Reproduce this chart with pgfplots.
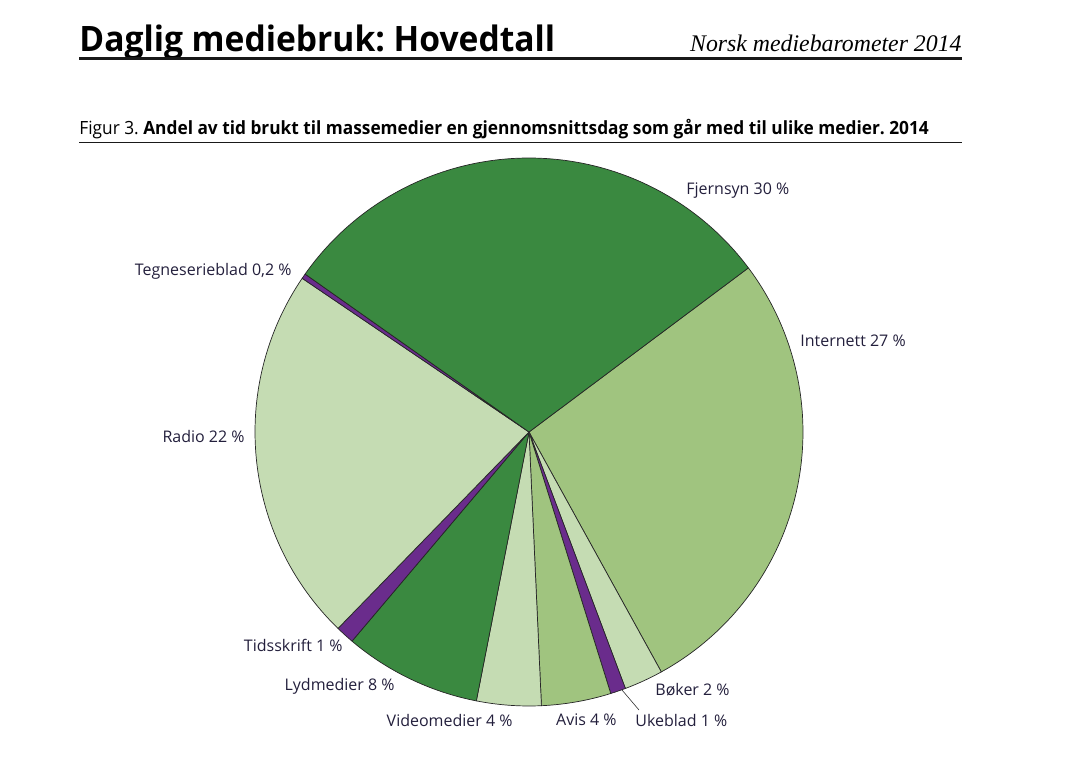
\documentclass[border=0pt]{standalone}
\usepackage{pgfplots}
\pgfplotsset{compat=1.18}
\usepackage{fontspec}
\setmainfont{Open Sans}
\newfontfamily\serifit{Liberation Serif}
\definecolor{cDark}{HTML}{3A8940}
\definecolor{cMed}{HTML}{A0C47F}
\definecolor{cLight}{HTML}{C5DCB3}
\definecolor{cPurp}{HTML}{6A2C8C}
\definecolor{cText}{RGB}{35,31,60}
\frenchspacing
\begin{document}
\begin{tikzpicture}
\begin{axis}[
  x=0.5pt, y=0.5pt,
  xmin=0, xmax=1068, ymin=0, ymax=768,
  hide axis, clip=false,
  scale only axis,
]
% page frame (sets the picture size)
\path (axis cs:0,0) rectangle (axis cs:1068,768);
% header
\node[anchor=base west, inner sep=0pt] at (axis cs:79,716) {\scalebox{0.96}[1]{\fontsize{17.5}{20}\selectfont\bfseries Daglig mediebruk: Hovedtall}};
\node[anchor=base east, inner sep=0pt] at (axis cs:962,716) {\fontsize{11.9}{14}\selectfont\serifit\itshape Norsk mediebarometer 2014};
\draw[line width=1.5pt, black!90] (axis cs:79,709) -- (axis cs:962,709);
\node[anchor=base west, inner sep=0pt] at (axis cs:79,633) {\scalebox{0.95}[1]{\fontsize{9.1}{11}\selectfont Figur 3. \textbf{Andel av tid brukt til massemedier en gjennomsnittsdag som går med til ulike medier. 2014}}};
\draw[line width=0.5pt, black!90] (axis cs:79,625) -- (axis cs:962,625);
% pie slices, clockwise from 36.8 deg, shares in percent
\def\pieangle{36.8}
\foreach \v/\c in {27.2/cMed,2.3/cLight,0.9/cPurp,4.1/cMed,3.8/cLight,8.1/cDark,1.1/cPurp,22.2/cLight,0.3/cPurp,30.0/cDark}{
  \pgfmathsetmacro\endangle{\pieangle-3.6*\v}
  \edef\doslice{\noexpand\filldraw[fill=\c, draw=black!85, line width=0.35pt, line join=round]
    (axis cs:529,336) -- ++(\pieangle:137pt) arc[start angle=\pieangle, end angle=\endangle, radius=137pt] -- cycle;}
  \doslice
  \global\let\pieangle\endangle
}
% labels
\begin{scope}[every node/.style={inner sep=0pt, text=cText, font=\fontsize{8}{9.6}\selectfont}]
\node[anchor=west] at (axis cs:686,577) {Fjernsyn 30 \%};
\node[anchor=west] at (axis cs:800,427) {Internett 27 \%};
\node[anchor=east] at (axis cs:292,497) {Tegneserieblad 0,2 \%};
\node[anchor=east] at (axis cs:245,332) {Radio 22 \%};
\node[anchor=east] at (axis cs:343,123) {Tidsskrift 1 \%};
\node[anchor=east] at (axis cs:395,82) {Lydmedier 8 \%};
\node[anchor=east] at (axis cs:513,48) {Videomedier 4 \%};
\node[anchor=east] at (axis cs:617,48) {Avis 4 \%};
\node[anchor=west] at (axis cs:655,78) {Bøker 2 \%};
\node[anchor=west] at (axis cs:635,48) {Ukeblad 1 \%};
\end{scope}
\draw[black!80, line width=0.3pt] (axis cs:622,78) -- (axis cs:639,58);
\end{axis}
\end{tikzpicture}
\end{document}
